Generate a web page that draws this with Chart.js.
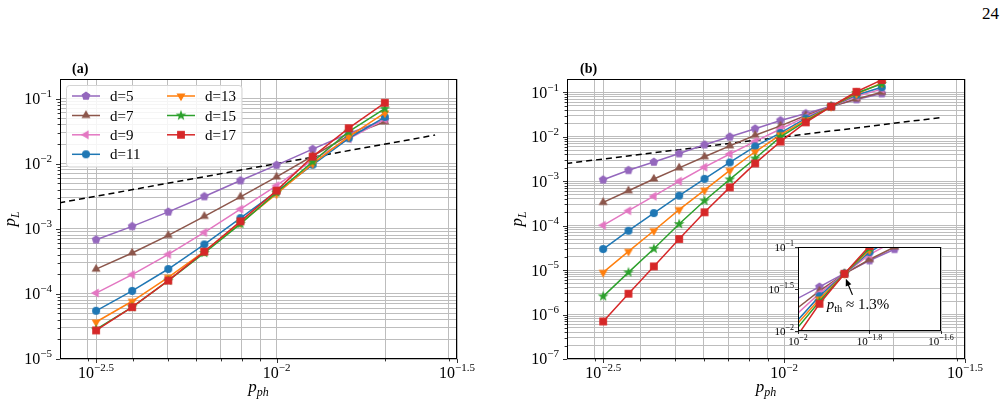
<!DOCTYPE html>
<html>
<head>
<meta charset="utf-8">
<script src="https://cdn.jsdelivr.net/npm/chart.js@4.4.1/dist/chart.umd.min.js"></script>
<style>
  body { margin: 0; background: #fff; }
  #page { position: relative; width: 1008px; height: 405px; font-family: "Liberation Serif", serif; }
  canvas { position: absolute; }
  #pageno { position: absolute; left: 982px; top: 4px; font-size: 17px; }
</style>
</head>
<body>
<div id="page">
  <div id="pageno">24</div>
  <canvas id="chart-a" width="504" height="405" style="left:0;top:0"></canvas>
  <canvas id="chart-b" width="504" height="405" style="left:504px;top:0"></canvas>
  <canvas id="chart-inset" width="200" height="120" style="left:760px;top:235px"></canvas>
</div>
<script>
const seriesLabels = ['d=5', 'd=7', 'd=9', 'd=11', 'd=13', 'd=15', 'd=17'];
const seriesColors = ['#9467bd', '#8c564b', '#e377c2', '#1f77b4', '#ff7f0e', '#2ca02c', '#d62728'];
const seriesMarkers = ['pentagon', 'triUp', 'triLeft', 'circle', 'triDown', 'star', 'square'];

// panel (a)
const pphA = [0.003162, 0.003981, 0.005012, 0.006310, 0.007943, 0.010000, 0.012589, 0.015849, 0.019953];
const pLA_d5  = [6.8e-4, 1.09e-3, 1.82e-3, 3.13e-3, 5.5e-3, 9.5e-3, 1.67e-2, 2.9e-2, 4.7e-2];
const pLA_d7  = [2.4e-4, 4.25e-4, 7.9e-4, 1.55e-3, 3.09e-3, 6.25e-3, 1.31e-2, 2.7e-2, 4.4e-2];
const pLA_d9  = [1.03e-4, 1.98e-4, 4.05e-4, 8.8e-4, 2.0e-3, 4.6e-3, 1.14e-2, 2.4e-2, 4.8e-2];
const pLA_d11 = [5.5e-5, 1.11e-4, 2.41e-4, 5.75e-4, 1.46e-3, 3.72e-3, 9.6e-3, 2.45e-2, 5.2e-2];
const pLA_d13 = [3.7e-5, 7.7e-5, 1.8e-4, 4.5e-4, 1.22e-3, 3.43e-3, 1.0e-2, 2.6e-2, 6.0e-2];
const pLA_d15 = [2.84e-5, 6.25e-5, 1.6e-4, 4.25e-4, 1.19e-3, 3.6e-3, 1.07e-2, 3.1e-2, 7.0e-2];
const pLA_d17 = [2.75e-5, 6.25e-5, 1.6e-4, 4.45e-4, 1.3e-3, 3.85e-3, 1.28e-2, 3.5e-2, 8.6e-2];

// panel (b)
const pphB = [0.003162, 0.003715, 0.004365, 0.005129, 0.006026, 0.007079, 0.008318, 0.009772, 0.011482, 0.013490, 0.015849, 0.018621];
const pLB_d5  = [1.08e-3, 1.76e-3, 2.7e-3, 4.2e-3, 6.64e-3, 1.0e-2, 1.52e-2, 2.33e-2, 3.35e-2, 4.85e-2, 6.9e-2, 9.4e-2];
const pLB_d7  = [3.34e-4, 6.1e-4, 1.12e-3, 2.0e-3, 3.55e-3, 6.25e-3, 1.08e-2, 1.76e-2, 3.0e-2, 4.8e-2, 7.1e-2, 1.0e-1];
const pLB_d9  = [1.02e-4, 2.17e-4, 4.6e-4, 1.0e-3, 2.07e-3, 4.1e-3, 7.9e-3, 1.5e-2, 2.8e-2, 4.8e-2, 8.1e-2, 1.18e-1];
const pLB_d11 = [2.98e-5, 7.7e-5, 1.92e-4, 4.73e-4, 1.13e-3, 2.64e-3, 6.1e-3, 1.22e-2, 2.6e-2, 4.8e-2, 8.7e-2, 1.3e-1];
const pLB_d13 = [8.9e-6, 2.64e-5, 7.7e-5, 2.3e-4, 6.3e-4, 1.75e-3, 4.6e-3, 1.11e-2, 2.4e-2, 4.8e-2, 9.2e-2, 1.62e-1];
const pLB_d15 = [2.57e-6, 8.9e-6, 3.03e-5, 1.09e-4, 3.64e-4, 1.1e-3, 3.25e-3, 9.9e-3, 2.25e-2, 4.8e-2, 9.7e-2, 1.55e-1];
const pLB_d17 = [7.0e-7, 2.94e-6, 1.21e-5, 5.0e-5, 2.0e-4, 7.26e-4, 2.52e-3, 7.8e-3, 2.11e-2, 4.8e-2, 1.03e-1, 1.9e-1];

// p_L = p_ph reference line
const refX = [0.0025, 0.0275];
const refY = [0.0025, 0.0275];

// ticks
const xMajorMain = [0.0031623, 0.01, 0.0316228];
const xMajorMainLabels = ['\u22122.5', '\u22122', '\u22121.5'];
const xMinorMain = [0.003, 0.004, 0.005, 0.006, 0.007, 0.008, 0.009, 0.02, 0.03];
const yMajorA = [1e-5, 1e-4, 1e-3, 1e-2, 1e-1];
const yMajorALabels = ['\u22125', '\u22124', '\u22123', '\u22122', '\u22121'];
const yMajorB = [1e-7, 1e-6, 1e-5, 1e-4, 1e-3, 1e-2, 1e-1];
const yMajorBLabels = ['\u22127', '\u22126', '\u22125', '\u22124', '\u22123', '\u22122', '\u22121'];
const xMajorInset = [0.01, 0.0158489, 0.0251189];
const xMajorInsetLabels = ['\u22122', '\u22121.8', '\u22121.6'];
const yMajorInset = [0.01, 0.0316228, 0.1];
const yMajorInsetLabels = ['\u22122', '\u22121.5', '\u22121'];

const FONT = '"Liberation Serif", "Times New Roman", serif';
const GRID = '#bdbdbd';

function minorDecades(lo, hi, max) {
    const out = [];
    for (let k = lo; k <= hi; k++) {
        for (let m = 2; m <= 9; m++) {
            const v = m * Math.pow(10, k);
            if (v < max) out.push(v);
        }
    }
    return out;
}
const yMinorA = minorDecades(-5, -1, 0.1995);
const yMinorB = minorDecades(-7, -1, 0.1995);

function markerCanvas(shape, color) {
    const s = 16, m = s / 2;
    const c = document.createElement('canvas');
    c.width = s; c.height = s;
    const g = c.getContext('2d');
    g.fillStyle = color;
    g.beginPath();
    const poly = (r, n, start) => {
        for (let i = 0; i < n; i++) {
            const a = (start + i * 360 / n) * Math.PI / 180;
            const px = m + r * Math.cos(a), py = m + r * Math.sin(a);
            if (i) g.lineTo(px, py); else g.moveTo(px, py);
        }
        g.closePath();
    };
    if (shape === 'circle') g.arc(m, m, 4, 0, Math.PI * 2);
    else if (shape === 'square') g.rect(m - 3.9, m - 3.9, 7.8, 7.8);
    else if (shape === 'triUp') poly(5.2, 3, -90);
    else if (shape === 'triDown') poly(5.2, 3, 90);
    else if (shape === 'triLeft') poly(5.2, 3, 180);
    else if (shape === 'pentagon') poly(4.6, 5, -90);
    else if (shape === 'star') {
        for (let i = 0; i < 10; i++) {
            const r = i % 2 ? 2.3 : 5.6;
            const a = (-90 + i * 36) * Math.PI / 180;
            const px = m + r * Math.cos(a), py = m + r * Math.sin(a);
            if (i) g.lineTo(px, py); else g.moveTo(px, py);
        }
        g.closePath();
    }
    g.fill();
    return c;
}
const markerImgs = seriesMarkers.map((s, i) => markerCanvas(s, seriesColors[i]));

function seriesDatasets(xs, ys) {
    return ys.map((vals, i) => ({
        label: seriesLabels[i],
        data: vals.map((v, j) => ({ x: xs[j], y: v })),
        borderColor: seriesColors[i],
        backgroundColor: seriesColors[i],
        borderWidth: 1.5,
        pointStyle: markerImgs[i],
        pointRadius: 4,
        tension: 0,
        order: ys.length - i
    }));
}

function refDataset() {
    return {
        label: 'ref',
        data: refX.map((v, j) => ({ x: v, y: refY[j] })),
        borderColor: '#000',
        borderWidth: 1.5,
        borderDash: [6, 4],
        pointRadius: 0,
        order: 20
    };
}

function drawPow(ctx, x, y, exp, size, align) {
    const big = size + 'px ' + FONT;
    const small = Math.round(size * 0.7) + 'px ' + FONT;
    ctx.font = big;
    const w1 = ctx.measureText('10').width;
    ctx.font = small;
    const w2 = ctx.measureText(exp).width;
    const x0 = align === 'right' ? x - w1 - w2 : x - (w1 + w2) / 2;
    ctx.textAlign = 'left';
    ctx.textBaseline = 'alphabetic';
    ctx.font = big;
    ctx.fillText('10', x0, y);
    ctx.font = small;
    ctx.fillText(exp, x0 + w1, y - size * 0.45);
}

function decorPlugin(cfg) {
    return {
        id: 'decor',
        beforeDraw(chart) {
            if (!cfg.whiteArea) return;
            const a = chart.chartArea, ctx = chart.ctx;
            ctx.save();
            ctx.fillStyle = '#fff';
            ctx.fillRect(a.left, a.top, a.right - a.left, a.bottom - a.top);
            ctx.restore();
        },
        afterDraw(chart) {
            const ctx = chart.ctx, a = chart.chartArea;
            const xs = chart.scales.x, ys = chart.scales.y;
            ctx.save();
            ctx.fillStyle = '#000';
            ctx.strokeStyle = '#000';

            // frame
            ctx.lineWidth = 1;
            const L = Math.round(a.left), T = Math.round(a.top), R = Math.round(a.right), B = Math.round(a.bottom);
            ctx.strokeRect(L + 0.5, T + 0.5, R - L - 1, B - T - 1);

            // tick marks
            ctx.lineWidth = 0.8;
            ctx.beginPath();
            cfg.yMajor.forEach(v => {
                const p = Math.round(ys.getPixelForValue(v)) + 0.5;
                ctx.moveTo(L, p); ctx.lineTo(L - cfg.tickLen, p);
            });
            (cfg.yMinor || []).forEach(v => {
                const p = Math.round(ys.getPixelForValue(v)) + 0.5;
                ctx.moveTo(L, p); ctx.lineTo(L - cfg.tickLen * 0.6, p);
            });
            cfg.xMajor.forEach(v => {
                const p = Math.round(xs.getPixelForValue(v)) + 0.5;
                ctx.moveTo(p, B); ctx.lineTo(p, B + cfg.tickLen);
            });
            (cfg.xMinor || []).forEach(v => {
                const p = Math.round(xs.getPixelForValue(v)) + 0.5;
                ctx.moveTo(p, B); ctx.lineTo(p, B + cfg.tickLen * 0.6);
            });
            ctx.stroke();

            // tick labels
            cfg.yMajor.forEach((v, i) => {
                drawPow(ctx, L - cfg.yGap, ys.getPixelForValue(v) + cfg.size * 0.34, cfg.yLabels[i], cfg.size, 'right');
            });
            cfg.xMajor.forEach((v, i) => {
                drawPow(ctx, xs.getPixelForValue(v), B + cfg.xDrop, cfg.xLabels[i], cfg.size, 'center');
            });

            // axis titles
            if (cfg.titles) {
                const big = 'italic 17px ' + FONT, sub = 'italic 12px ' + FONT;
                ctx.font = big; const wp = ctx.measureText('p').width;
                ctx.font = sub; const wph = ctx.measureText('ph').width;
                const cx = (a.left + a.right) / 2;
                ctx.textAlign = 'left';
                ctx.font = big; ctx.fillText('p', cx - (wp + wph) / 2, cfg.xTitleY);
                ctx.font = sub; ctx.fillText('ph', cx - (wp + wph) / 2 + wp, cfg.xTitleY + 4);

                ctx.save();
                ctx.translate(cfg.yTitleX, (a.top + a.bottom) / 2);
                ctx.rotate(-Math.PI / 2);
                ctx.font = sub; const wl = ctx.measureText('L').width;
                ctx.font = big; ctx.fillText('p', -(wp + wl) / 2, 0);
                ctx.font = sub; ctx.fillText('L', -(wp + wl) / 2 + wp, 4);
                ctx.restore();
            }

            // panel label
            if (cfg.panel) {
                ctx.font = 'bold 14px ' + FONT;
                ctx.textAlign = 'left';
                ctx.fillText(cfg.panel.text, cfg.panel.x, cfg.panel.y);
            }

            if (cfg.legend) drawLegend(ctx);
            if (cfg.annotate) drawAnnotation(ctx, xs, ys);
            ctx.restore();
        }
    };
}

function drawLegend(ctx) {
    ctx.save();
    ctx.beginPath();
    ctx.roundRect(66.5, 85.5, 175.5, 81.5, 3);
    ctx.fillStyle = 'rgba(255,255,255,0.85)';
    ctx.fill();
    ctx.strokeStyle = '#d4d4d4';
    ctx.lineWidth = 1;
    ctx.stroke();
    const colX = [72, 167];
    const rowY = [96, 115.5, 134.8, 154.3];
    ctx.font = '15px ' + FONT;
    ctx.textAlign = 'left';
    ctx.textBaseline = 'alphabetic';
    seriesLabels.forEach((lab, i) => {
        const col = i < 4 ? 0 : 1;
        const row = i < 4 ? i : i - 4;
        const x0 = colX[col], y = rowY[row];
        ctx.strokeStyle = seriesColors[i];
        ctx.lineWidth = 1.5;
        ctx.beginPath();
        ctx.moveTo(x0, y); ctx.lineTo(x0 + 28, y);
        ctx.stroke();
        const img = markerImgs[i];
        ctx.drawImage(img, x0 + 14 - img.width / 2, y - img.height / 2);
        ctx.fillStyle = '#000';
        ctx.fillText(lab, x0 + 38, y + 5);
    });
    ctx.restore();
}

function drawAnnotation(ctx, xs, ys) {
    const hx = xs.getPixelForValue(0.01361), hy = ys.getPixelForValue(0.04178);
    const tx = xs.getPixelForValue(0.01420), ty = ys.getPixelForValue(0.02692);
    ctx.strokeStyle = '#000';
    ctx.fillStyle = '#000';
    ctx.lineWidth = 1.2;
    const ang = Math.atan2(hy - ty, hx - tx);
    ctx.beginPath();
    ctx.moveTo(tx, ty);
    ctx.lineTo(hx - 5 * Math.cos(ang), hy - 5 * Math.sin(ang));
    ctx.stroke();
    ctx.beginPath();
    ctx.moveTo(hx, hy);
    ctx.lineTo(hx - 7 * Math.cos(ang) + 3 * Math.sin(ang), hy - 7 * Math.sin(ang) - 3 * Math.cos(ang));
    ctx.lineTo(hx - 7 * Math.cos(ang) - 3 * Math.sin(ang), hy - 7 * Math.sin(ang) + 3 * Math.cos(ang));
    ctx.closePath();
    ctx.fill();

    let x = xs.getPixelForValue(0.01203);
    const y = ys.getPixelForValue(0.01832);
    ctx.textAlign = 'left';
    ctx.font = 'italic 15px ' + FONT;
    ctx.fillText('p', x, y);
    x += ctx.measureText('p').width;
    ctx.font = '10.5px ' + FONT;
    ctx.fillText('th', x, y + 3.5);
    x += ctx.measureText('th').width;
    ctx.font = '15px ' + FONT;
    ctx.fillText(' \u2248 1.3%', x, y);
}

function makeOptions(xr, yr, pad, xTicks, yTicks) {
    return {
        responsive: false,
        animation: false,
        events: [],
        layout: { padding: pad },
        plugins: { legend: { display: false }, tooltip: { enabled: false } },
        scales: {
            x: {
                type: 'logarithmic', min: xr[0], max: xr[1],
                ticks: { display: false },
                grid: { color: GRID, lineWidth: 1, drawTicks: false },
                border: { display: false },
                afterBuildTicks: s => { s.ticks = xTicks.slice().sort((p, q) => p - q).map(v => ({ value: v })); }
            },
            y: {
                type: 'logarithmic', min: yr[0], max: yr[1],
                ticks: { display: false },
                grid: { color: GRID, lineWidth: 1, drawTicks: false },
                border: { display: false },
                afterBuildTicks: s => { s.ticks = yTicks.slice().sort((p, q) => p - q).map(v => ({ value: v })); }
            }
        }
    };
}

const xRangeMain = [0.0025119, 0.0316228];

// panel (a)
new Chart(document.getElementById('chart-a').getContext('2d'), {
    type: 'line',
    data: {
        datasets: seriesDatasets(pphA, [pLA_d5, pLA_d7, pLA_d9, pLA_d11, pLA_d13, pLA_d15, pLA_d17]).concat([refDataset()])
    },
    options: makeOptions(xRangeMain, [1e-5, 0.19953], { left: 60, top: 79, right: 47, bottom: 46 },
        xMajorMain.concat(xMinorMain), yMajorA.concat(yMinorA)),
    plugins: [decorPlugin({
        xMajor: xMajorMain, xMinor: xMinorMain, xLabels: xMajorMainLabels,
        yMajor: yMajorA, yMinor: yMinorA, yLabels: yMajorALabels,
        size: 16, tickLen: 4, yGap: 8, xDrop: 19,
        titles: true, xTitleY: 392, yTitleX: 15,
        panel: { text: '(a)', x: 72, y: 73 },
        legend: true
    })]
});

// panel (b)
new Chart(document.getElementById('chart-b').getContext('2d'), {
    type: 'line',
    data: {
        datasets: seriesDatasets(pphB, [pLB_d5, pLB_d7, pLB_d9, pLB_d11, pLB_d13, pLB_d15, pLB_d17]).concat([refDataset()])
    },
    options: makeOptions(xRangeMain, [1e-7, 0.19953], { left: 63, top: 79, right: 43, bottom: 46 },
        xMajorMain.concat(xMinorMain), yMajorB.concat(yMinorB)),
    plugins: [decorPlugin({
        xMajor: xMajorMain, xMinor: xMinorMain, xLabels: xMajorMainLabels,
        yMajor: yMajorB, yMinor: yMinorB, yLabels: yMajorBLabels,
        size: 16, tickLen: 4, yGap: 8, xDrop: 19,
        titles: true, xTitleY: 392, yTitleX: 18,
        panel: { text: '(b)', x: 76, y: 73 }
    })]
});

// inset of panel (b)
new Chart(document.getElementById('chart-inset').getContext('2d'), {
    type: 'line',
    data: {
        datasets: seriesDatasets(pphB, [pLB_d5, pLB_d7, pLB_d9, pLB_d11, pLB_d13, pLB_d15, pLB_d17])
    },
    options: makeOptions([0.01, 0.0251189], [0.01, 0.1], { left: 38, top: 12, right: 19, bottom: 24 },
        xMajorInset, yMajorInset),
    plugins: [decorPlugin({
        whiteArea: true,
        xMajor: xMajorInset, xLabels: xMajorInsetLabels,
        yMajor: yMajorInset, yLabels: yMajorInsetLabels,
        size: 11, tickLen: 3, yGap: 4, xDrop: 14,
        annotate: true
    })]
});
</script>
</body>
</html>
